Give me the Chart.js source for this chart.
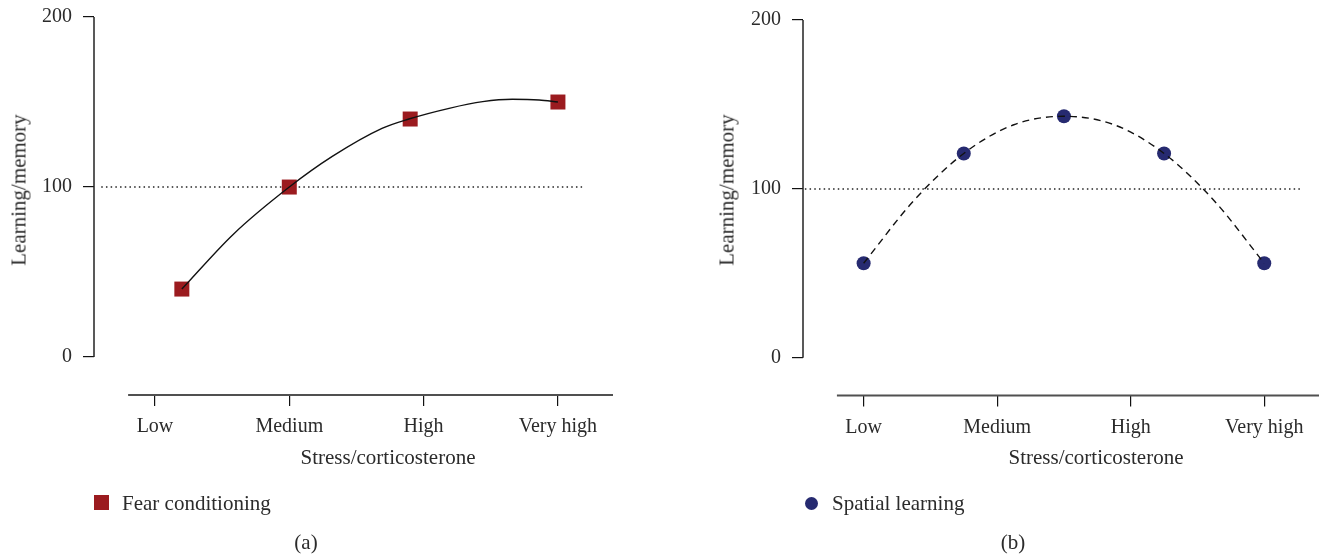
<!DOCTYPE html>
<html>
<head>
<meta charset="utf-8">
<script src="https://cdn.jsdelivr.net/npm/chart.js@4.4.1/dist/chart.umd.min.js"></script>
<style>
  html, body { margin: 0; padding: 0; background: #ffffff; }
  #wrap {
    position: relative; width: 1326px; height: 557px; overflow: hidden;
    font-family: "Liberation Serif", "DejaVu Serif", serif; color: #2b2b2b;
  }
  canvas { position: absolute; top: 0; }
  .txt { position: absolute; white-space: nowrap; font-size: 21px; line-height: 21px; }
  .center { transform: translateX(-50%); }
  .ytitle { transform: translate(-50%, -50%) rotate(-90deg); }
  .marker { position: absolute; }
</style>
</head>
<body>
<div id="wrap">
  <canvas id="panelA" width="663" height="557" style="left:0px"></canvas>
  <canvas id="panelB" width="617" height="557" style="left:709px"></canvas>
</div>
<script>
// Stress levels shown on the horizontal axis (tick positions 0..3)
const levelLabels = ['Low', 'Medium', 'High', 'Very high'];
const levelTicks = [0, 1, 2, 3];
const yTicks = [0, 100, 200];

const xAxisTitle = 'Stress/corticosterone';
const yAxisTitle = 'Learning/memory';

// (a) Fear conditioning
const fearName = 'Fear conditioning';
const fearX = [0.2, 1.0, 1.9, 3.0];
const fearY = [40, 100, 140, 150];
// fitted curve, read along its length
const fearFitX = [0.2, 0.58, 1.0, 1.32, 1.69, 1.89, 2.19, 2.44, 2.66, 2.86, 3.0];
const fearFitY = [40, 72, 100, 118, 134.5, 140, 146.3, 150.2, 151.6, 151.2, 150];
const fearRefX = [-0.40, 3.18];

// (b) Spatial learning
const spatialName = 'Spatial learning';
const spatialX = [0, 0.75, 1.5, 2.25, 3.0];
const spatialY = [56, 121, 143, 121, 56];
const spatialFitX = [0, 0.375, 0.75, 1.125, 1.5, 1.875, 2.25, 2.625, 3.0];
const spatialFitY = [56, 93, 121, 138, 143, 138, 121, 93, 56];
const spatialRefX = [-0.44, 3.28];

const baseline = 100;

const FONT = '"Liberation Serif", "DejaVu Serif", serif';
const TEXT = '#2b2b2b';

const toPoints = (xs, ys) => xs.map((x, i) => ({ x: x, y: ys[i] }));

// Detached axis lines: y axis spans 0..200, x axis starts a little left of the first level
const axisLines = {
  id: 'axisLines',
  afterDraw(chart, args, opts) {
    const { ctx, chartArea, scales } = chart;
    const x = scales.x, y = scales.y;
    ctx.save();
    ctx.lineWidth = 1.5;
    ctx.strokeStyle = '#222222';
    ctx.beginPath();
    ctx.moveTo(chartArea.left, y.getPixelForValue(yTicks[yTicks.length - 1]));
    ctx.lineTo(chartArea.left, y.getPixelForValue(yTicks[0]));
    ctx.stroke();
    ctx.lineWidth = 2;
    ctx.strokeStyle = '#505050';
    ctx.beginPath();
    ctx.moveTo(x.getPixelForValue(opts.xStart), chartArea.bottom);
    ctx.lineTo(chartArea.right, chartArea.bottom);
    ctx.stroke();
    ctx.restore();
  }
};

function noOverflow(s) {
  s.paddingTop = 0; s.paddingBottom = 0; s.paddingLeft = 0; s.paddingRight = 0;
}

function buildPanel(canvasId, p) {
  return new Chart(document.getElementById(canvasId), {
    type: 'scatter',
    data: {
      datasets: [
        {
          label: 'fit',
          data: toPoints(p.fitX, p.fitY),
          showLine: true,
          borderColor: '#111111',
          borderWidth: 1.4,
          borderDash: p.fitDash,
          cubicInterpolationMode: 'monotone',
          pointRadius: 0,
          pointHoverRadius: 0,
          order: 0
        },
        {
          label: p.name,
          data: toPoints(p.xs, p.ys),
          showLine: false,
          pointStyle: p.pointStyle,
          pointRadius: p.pointRadius,
          pointHoverRadius: p.pointRadius,
          backgroundColor: p.color,
          borderColor: p.color,
          pointBorderWidth: 0,
          borderWidth: 0,
          order: 1
        },
        {
          label: 'reference',
          data: toPoints(p.refX, [baseline, baseline]),
          showLine: true,
          borderColor: '#222222',
          borderWidth: 1.5,
          borderDash: [1.5, 3.2],
          pointRadius: 0,
          pointHoverRadius: 0,
          order: 2
        }
      ]
    },
    options: {
      responsive: false,
      animation: false,
      devicePixelRatio: 1,
      layout: { padding: p.padding },
      plugins: {
        legend: { display: false },
        tooltip: { enabled: false },
        axisLines: { xStart: -0.2 }
      },
      scales: {
        x: {
          type: 'linear',
          min: -0.454,
          max: 3.41,
          afterBuildTicks: s => { s.ticks = levelTicks.map(v => ({ value: v })); },
          afterFit: s => { s.height = 60; noOverflow(s); },
          ticks: {
            autoSkip: false,
            maxRotation: 0,
            padding: 9,
            color: TEXT,
            font: { family: FONT, size: 20 },
            callback: (v, i) => levelLabels[i]
          },
          grid: { drawOnChartArea: false, drawTicks: true, tickLength: 11, color: '#111111', lineWidth: 1.2 },
          border: { display: false }
        },
        y: {
          type: 'linear',
          min: -22.3,
          max: 200,
          afterBuildTicks: s => { s.ticks = yTicks.map(v => ({ value: v })); },
          afterFit: s => { s.width = 94; noOverflow(s); },
          ticks: {
            padding: 11,
            color: TEXT,
            font: { family: FONT, size: 20 }
          },
          grid: { drawOnChartArea: false, drawTicks: true, tickLength: 11, color: '#111111', lineWidth: 1.2 },
          border: { display: false }
        }
      }
    },
    plugins: [axisLines]
  });
}

buildPanel('panelA', {
  name: fearName, xs: fearX, ys: fearY, fitX: fearFitX, fitY: fearFitY, refX: fearRefX,
  fitDash: [], pointStyle: 'rect', pointRadius: 10.6, color: '#9b1b1f',
  padding: { top: 17, left: 0, right: 50, bottom: 102 }
});

buildPanel('panelB', {
  name: spatialName, xs: spatialX, ys: spatialY, fitX: spatialFitX, fitY: spatialFitY, refX: spatialRefX,
  fitDash: [7, 5], pointStyle: 'circle', pointRadius: 7, color: '#262a70',
  padding: { top: 20, left: 0, right: 3, bottom: 101.5 }
});

// Axis titles, legends and panel captions
const wrap = document.getElementById('wrap');
function addText(text, cls, style) {
  const d = document.createElement('div');
  d.className = 'txt ' + cls;
  d.textContent = text;
  Object.assign(d.style, style);
  wrap.appendChild(d);
}
function addMarker(style) {
  const d = document.createElement('div');
  d.className = 'marker';
  Object.assign(d.style, style);
  wrap.appendChild(d);
}

addText(yAxisTitle, 'ytitle', { left: '18.5px', top: '190px' });
addText(yAxisTitle, 'ytitle', { left: '727px', top: '190px' });
addText(xAxisTitle, 'center', { left: '388px', top: '447px' });
addText(xAxisTitle, 'center', { left: '1096px', top: '447px' });

addMarker({ left: '94px', top: '494.5px', width: '15px', height: '15px', background: '#9b1b1f' });
addText(fearName, '', { left: '122px', top: '492.5px' });
addMarker({ left: '804.5px', top: '496.5px', width: '13px', height: '13px', borderRadius: '50%', background: '#262a70' });
addText(spatialName, '', { left: '832px', top: '492.5px' });

addText('(a)', 'center', { left: '306px', top: '532px' });
addText('(b)', 'center', { left: '1013px', top: '532px' });
</script>
</body>
</html>
